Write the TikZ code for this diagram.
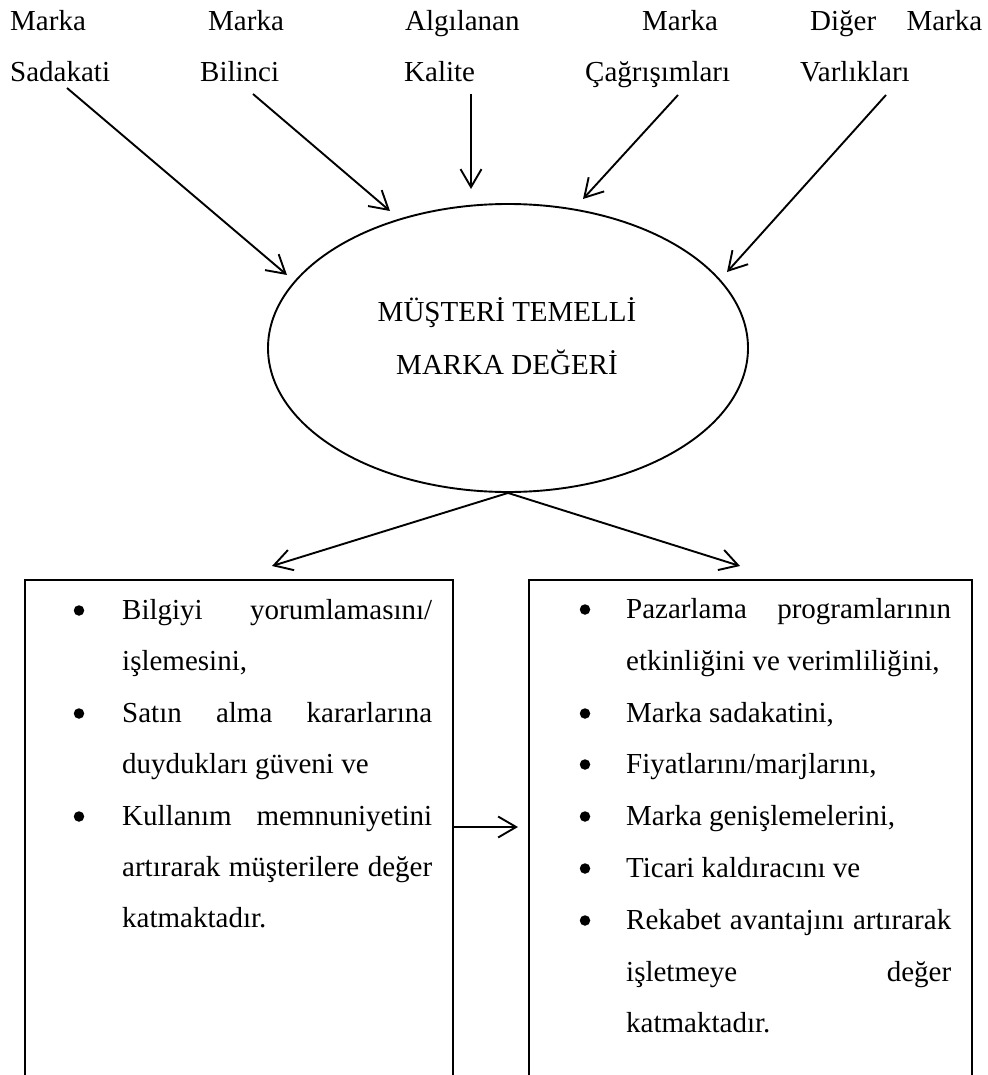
\documentclass[tikz,border=0pt]{standalone}
\usepackage{fontspec}
\setmainfont{Liberation Serif}
\usetikzlibrary{arrows.meta,shapes.geometric}
\tikzset{
  lbl/.style={anchor=base west, inner sep=0pt, font=\fontsize{29}{35}\selectfont},
  ctr/.style={anchor=base, inner sep=0pt, font=\fontsize{29}{35}\selectfont},
  dot/.style={circle, fill=black, inner sep=0pt, minimum size=10.5pt},
  conn/.style={line width=1.9pt, -{Straight Barb[length=18pt,width=21pt,line width=1.9pt]}},
  frame/.style={line width=1.8pt},
  bubble/.style={draw, ellipse, line width=1.9pt, minimum width=480pt, minimum height=288pt, inner sep=0pt},
}
% a line of text spread over a given width
\newcommand{\spreadline}[2]{\makebox[#1][s]{#2}}
\begin{document}
\begin{tikzpicture}[x=1pt,y=-1pt]
\useasboundingbox (0,0) rectangle (987,1075);

% ---- the five dimensions ----
\node[lbl] (m1) at (10,31) {Marka};
\node[lbl] (s1) at (10,82) {Sadakati};
\node[lbl] (m2) at (208,31) {Marka};
\node[lbl] (b2) at (200,82) {Bilinci};
\node[lbl] (a3) at (405,31) {Algılanan};
\node[lbl] (k3) at (404,82) {Kalite};
\node[lbl] (m4) at (642,31) {Marka};
\node[lbl] (c4) at (585,82) {Çağrışımları};
\node[lbl] (d5) at (810,31) {\spreadline{172pt}{Diğer Marka}};
\node[lbl] (v5) at (800,82) {Varlıkları};

% ---- central concept ----
\node[bubble] (cbbe) at (508,348) {};
\node[ctr] (t1) at (507,321) {MÜŞTERİ TEMELLİ};
\node[ctr] (t2) at (507,374) {MARKA DEĞERİ};

% arrow ends
\coordinate (p1) at (67,88);   \coordinate (q1) at (287,275);
\coordinate (p2) at (253,94);  \coordinate (q2) at (390,211);
\coordinate (p3) at (471,94);  \coordinate (q3) at (471,189);
\coordinate (p4) at (678,95);  \coordinate (q4) at (583,199);
\coordinate (p5) at (886,95);  \coordinate (q5) at (727,272);

\draw[conn] (p1) -- (q1);
\draw[conn] (p2) -- (q2);
\draw[conn] (p3) -- (q3);
\draw[conn] (p4) -- (q4);
\draw[conn] (p5) -- (q5);

% ---- the two outcome boxes (open at the bottom) ----
\coordinate (lbl1) at (25,1080);  \coordinate (lbtl) at (25,580);
\coordinate (lbtr) at (453,580);  \coordinate (lbr1) at (453,1080);
\coordinate (rbl1) at (529,1080); \coordinate (rbtl) at (529,580);
\coordinate (rbtr) at (972,580);  \coordinate (rbr1) at (972,1080);
\draw[frame] (lbl1) -- (lbtl) -- (lbtr) -- (lbr1);
\draw[frame] (rbl1) -- (rbtl) -- (rbtr) -- (rbr1);

\coordinate (lt) at (272,566);
\coordinate (rt) at (740,566);
\draw[conn] (cbbe.south) -- (lt);
\draw[conn] (cbbe.south) -- (rt);

\coordinate (mida) at (453,827);
\coordinate (midb) at (518,827);
\draw[conn] (mida) -- (midb);

% ---- left box text ----
\node[dot] (lb1) at (79,610.5) {};
\node[dot] (lb2) at (79,713.5) {};
\node[dot] (lb3) at (79,816.5) {};
\node[lbl] (l1) at (122,619) {\spreadline{310pt}{Bilgiyi yorumlamasını/}};
\node[lbl] (l2) at (122,670) {işlemesini,};
\node[lbl] (l3) at (122,722) {\spreadline{310pt}{Satın alma kararlarına}};
\node[lbl] (l4) at (122,773) {duydukları güveni ve};
\node[lbl] (l5) at (122,825) {\spreadline{310pt}{Kullanım memnuniyetini}};
\node[lbl] (l6) at (122,876) {\spreadline{310pt}{artırarak müşterilere değer}};
\node[lbl] (l7) at (122,927) {katmaktadır.};

% ---- right box text ----
\node[dot] (rb1) at (585,609.5) {};
\node[dot] (rb2) at (585,713.5) {};
\node[dot] (rb3) at (585,764.5) {};
\node[dot] (rb4) at (585,816.5) {};
\node[dot] (rb5) at (585,868.5) {};
\node[dot] (rb6) at (585,920.5) {};
\node[lbl] (r1) at (626,618) {\spreadline{325pt}{Pazarlama programlarının}};
\node[lbl] (r2) at (626,670) {etkinliğini ve verimliliğini,};
\node[lbl] (r3) at (626,722) {Marka sadakatini,};
\node[lbl] (r4) at (626,773) {Fiyatlarını/marjlarını,};
\node[lbl] (r5) at (626,825) {Marka genişlemelerini,};
\node[lbl] (r6) at (626,877) {Ticari kaldıracını ve};
\node[lbl] (r7) at (626,929) {\spreadline{325pt}{Rekabet avantajını artırarak}};
\node[lbl] (r8) at (626,981) {\spreadline{325pt}{işletmeye değer}};
\node[lbl] (r9) at (626,1032) {katmaktadır.};
\end{tikzpicture}
\end{document}
